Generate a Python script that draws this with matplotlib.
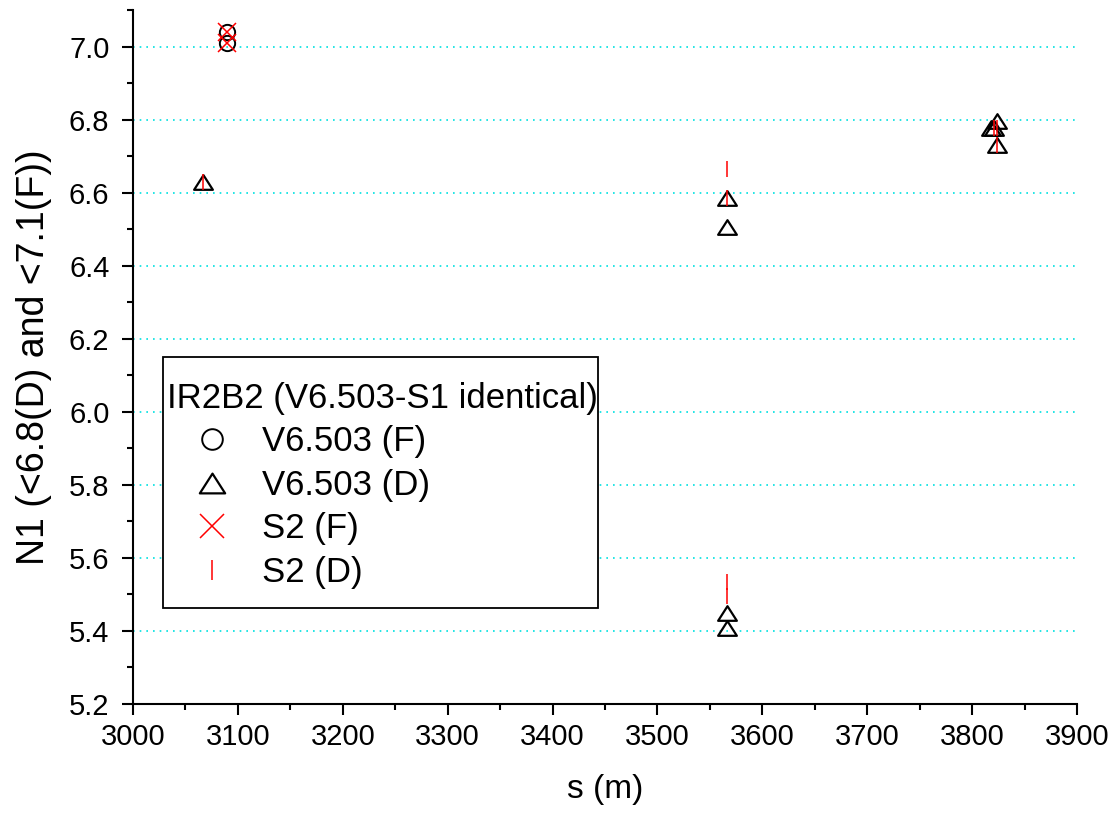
import matplotlib
matplotlib.use("Agg")
import matplotlib.pyplot as plt
from matplotlib.patches import Rectangle
from matplotlib.path import Path
from matplotlib.ticker import MultipleLocator, FormatStrFormatter

plt.rcParams["font.family"] = ["Liberation Sans", "DejaVu Sans"]

# V6.503 results (F = focusing, D = defocusing)
v_f_s = [3090, 3090]
v_f_n1 = [7.04, 7.01]
v_d_s = [3067, 3566, 3566, 3566, 3566, 3824, 3818, 3821, 3824]
v_d_n1 = [6.63, 6.585, 6.505, 5.448, 5.408, 6.796, 6.778, 6.778, 6.730]

# S2 results
s2_f_s = [3090, 3090]
s2_f_n1 = [7.04, 7.01]
s2_d_s = [3067, 3566, 3566, 3566, 3566, 3821, 3824, 3824]
s2_d_n1 = [6.63, 6.665, 6.585, 5.534, 5.496, 6.777, 6.777, 6.730]

labels = ["V6.503 (F)", "V6.503 (D)", "S2 (F)", "S2 (D)"]
legend_title = "IR2B2 (V6.503-S1 identical)"

# flat open triangle, wider than tall
tri = Path([(-0.5, -0.39), (0.5, -0.39), (0.0, 0.39), (-0.5, -0.39)],
           [Path.MOVETO, Path.LINETO, Path.LINETO, Path.CLOSEPOLY])

fig = plt.figure(figsize=(11.13, 8.18), dpi=100)
ax = fig.add_axes([133 / 1113, 1 - 704 / 818, (1077 - 133) / 1113, (704 - 10) / 818])

ax.plot(v_f_s, v_f_n1, ls="none", marker="o", ms=11, mfc="none", mec="black",
        mew=1.4, label=labels[0], zorder=3)
ax.plot(v_d_s, v_d_n1, ls="none", marker=tri, ms=13.5, mfc="none", mec="black",
        mew=1.6, label=labels[1], zorder=3)
ax.plot(s2_f_s, s2_f_n1, ls="none", marker="x", ms=12.5, mec="red",
        mew=1.1, label=labels[2], zorder=4)
ax.plot(s2_d_s, s2_d_n1, ls="none", marker="|", ms=11, mec="red",
        mew=1.1, label=labels[3], zorder=4)

ax.set_xlim(3000, 3900)
ax.set_ylim(5.2, 7.1)
ax.xaxis.set_major_locator(MultipleLocator(100))
ax.xaxis.set_minor_locator(MultipleLocator(50))
ax.yaxis.set_major_locator(MultipleLocator(0.2))
ax.yaxis.set_minor_locator(MultipleLocator(0.1))
ax.yaxis.set_major_formatter(FormatStrFormatter("%.1f"))

for side in ("top", "right"):
    ax.spines[side].set_visible(False)
for side in ("left", "bottom"):
    ax.spines[side].set_linewidth(1.5)

ax.tick_params(which="major", direction="out", length=8, width=1.5, labelsize=21)
ax.tick_params(which="minor", direction="out", length=4.5, width=1.5)
ax.tick_params(axis="y", which="major", pad=9)
ax.tick_params(axis="x", which="major", pad=6)

ax.yaxis.grid(True, which="major", color="#00e0e0", linestyle=(0, (1, 3)), linewidth=1.2)
ax.set_axisbelow(True)

ax.set_xlabel("s (m)", fontsize=24, labelpad=16)
ax.set_ylabel("N1 (<6.8(D) and <7.1(F))", fontsize=27, labelpad=12)

# legend box drawn separately so the padding can differ per side
box = Rectangle(((163 - 133) / 944, (704 - 608) / 694), (598 - 163) / 944, (608 - 357) / 694,
                transform=ax.transAxes, facecolor="white", edgecolor="black",
                linewidth=1.3, zorder=5)
ax.add_patch(box)

leg = ax.legend(loc="upper left", bbox_to_anchor=((167 - 133) / 944, (704 - 382) / 694),
                borderaxespad=0, borderpad=0, frameon=False, fontsize=25,
                title=legend_title, title_fontsize=25, alignment="left",
                handlelength=2.6, handletextpad=0.15, labelspacing=0.3,
                markerscale=1.35)
leg.set_zorder(6)

fig.savefig("out.png", dpi=100)
